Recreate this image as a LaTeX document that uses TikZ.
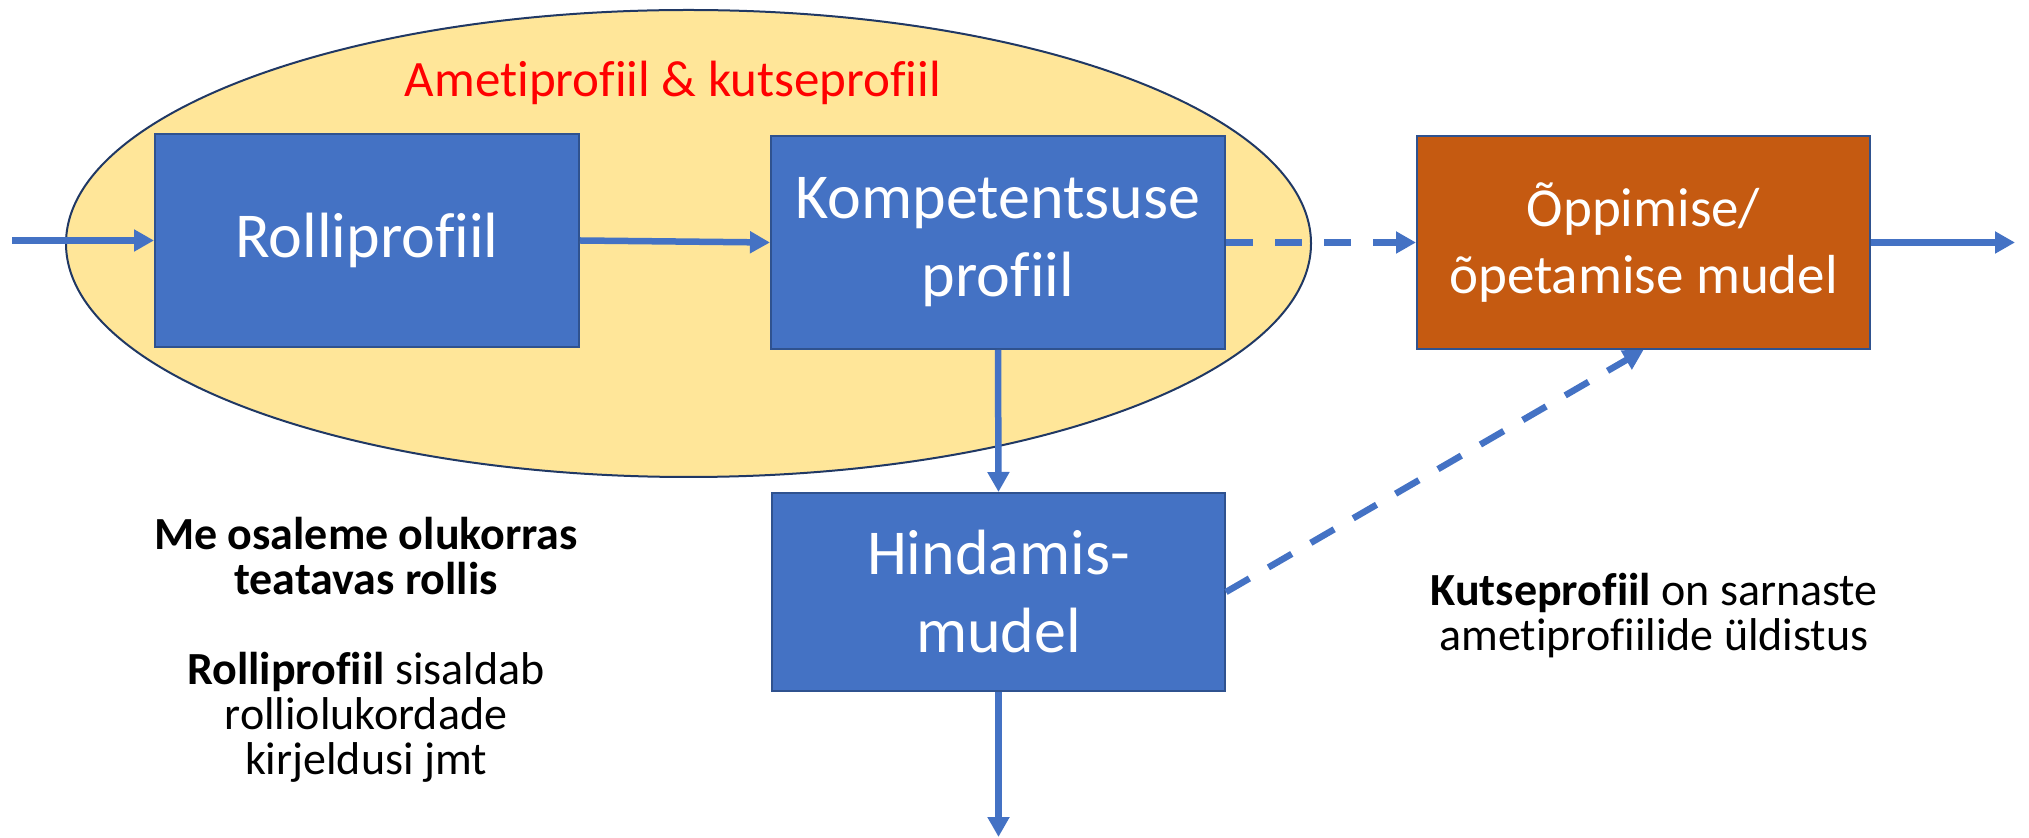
\documentclass[tikz,border=0pt]{standalone}
\usepackage{fontspec}
\setmainfont{Carlito}[Ligatures=CommonOff]
\usetikzlibrary{shapes.geometric,arrows.meta}
\definecolor{boxblue}{HTML}{4472C4}
\definecolor{boxedge}{HTML}{2F528F}
\definecolor{boxorange}{HTML}{C55A11}
\definecolor{ellfill}{HTML}{FFE699}
\definecolor{ellnavy}{HTML}{203864}
\definecolor{arrowblue}{HTML}{4472C4}
\definecolor{titlered}{HTML}{FF0000}
\begin{document}
\begin{tikzpicture}[x=0.5pt,y=-0.5pt,
  box/.style={draw=boxedge, line width=1pt, fill=boxblue, text=white, inner sep=0pt, align=center,
    minimum height=106.5pt, font=\fontsize{32}{39}\selectfont},
  conn/.style={draw=arrowblue, line width=3.25pt, -{Triangle[length=10pt,width=10.5pt]}},
  dconn/.style={conn, dash pattern=on 13.5pt off 11pt},
  sidetxt/.style={align=center, inner sep=0pt, font=\fontsize{23}{22.5}\selectfont}]
\useasboundingbox (0,0) rectangle (2029,838);
\node[ellipse, draw=ellnavy, line width=1pt, fill=ellfill, minimum width=622.5pt, minimum height=233.5pt, inner sep=0pt] (ell) at (688.5,243.5) {};
\node[text=titlered, anchor=base, inner sep=0pt, font=\fontsize{25.5}{30}\selectfont] (title) at (673,97) {Ametiprofiil \& kutseprofiil};
\node[box, minimum width=212pt] (rolli) at (367,240.5) {Rolliprofiil};
\node[box, minimum width=227pt] (komp) at (998,242.5) {Kompetentsuse\\profiil};
\node[box, minimum width=226.5pt, fill=boxorange, font=\fontsize{27.5}{33.5}\selectfont] (oppi) at (1643.5,242.5) {Õppimise/\\õpetamise mudel};
\node[box, minimum width=226.5pt, minimum height=99pt] (hind) at (998.5,592) {Hindamis-\\mudel};
\node[sidetxt] (lefttxt) at (366,650) {\textbf{Me osaleme olukorras}\\\textbf{teatavas rollis}\\[22.5pt]\textbf{Rolliprofiil} sisaldab\\rolliolukordade\\kirjeldusi jmt};
\node[sidetxt] (kutsetxt) at (1654,616) {\textbf{Kutseprofiil} on sarnaste\\ametiprofiilide üldistus};
\coordinate (in) at (12,240.5);
\coordinate (out) at (2015,242.5);
\coordinate (down) at (998.5,837);
\draw[conn] (in) -- (rolli.west);
\draw[conn] (rolli.east) -- (komp.west);
\draw[dconn] (komp.east) -- (oppi.west);
\draw[conn] (oppi.east) -- (out);
\draw[conn] (komp.south) -- (hind.north);
\draw[conn] (hind.south) -- (down);
\draw[dconn] (hind.east) -- (oppi.south);
\end{tikzpicture}
\end{document}
